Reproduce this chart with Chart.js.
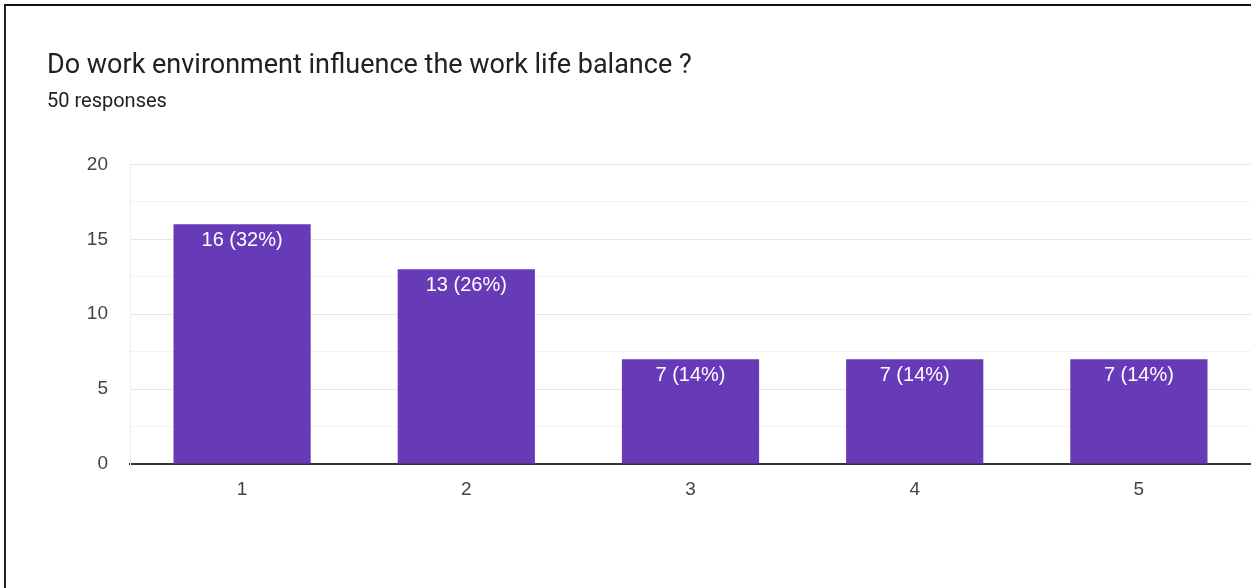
<!DOCTYPE html>
<html>
<head>
<meta charset="utf-8">
<script src="https://cdn.jsdelivr.net/npm/chart.js@4.4.1/dist/chart.umd.min.js"></script>
<style>
  html, body { margin: 0; padding: 0; background: #fff; }
  #wrap { position: relative; width: 1251px; height: 588px; overflow: hidden; }
  #frame { position: absolute; left: 4px; top: 4px; width: 1260px; height: 600px;
           border-top: 2px solid #111; border-left: 2px solid #222; box-sizing: border-box; pointer-events: none; }
  canvas { position: absolute; left: 0; top: 0; }
</style>
</head>
<body>
<div id="wrap">
  <canvas id="c" width="1251" height="588"></canvas>
  <div id="frame"></div>
</div>
<script>
const titleText = "Do work environment influence the work life balance ?";
const subtitleText = "50 responses";
const categories = ["1", "2", "3", "4", "5"];
const counts = [16, 13, 7, 7, 7];
const percents = [32, 26, 14, 14, 14];
const yTicks = [0, 5, 10, 15, 20];

const font = "Roboto, 'Noto Sans', Arial, sans-serif";
const chartFont = "Arial, 'Liberation Sans', sans-serif";

const barLabels = {
  id: 'barLabels',
  afterDatasetsDraw(chart) {
    const ctx = chart.ctx;
    const meta = chart.getDatasetMeta(0);
    ctx.save();
    ctx.fillStyle = '#ffffff';
    ctx.font = "20px " + chartFont;
    ctx.textAlign = 'center';
    ctx.textBaseline = 'middle';
    meta.data.forEach((bar, i) => {
      ctx.fillText(counts[i] + " (" + percents[i] + "%)", bar.x, bar.y + 16);
    });
    ctx.restore();
  }
};

new Chart(document.getElementById('c'), {
  type: 'bar',
  data: {
    labels: categories,
    datasets: [{
      data: counts,
      backgroundColor: '#673ab7',
      borderWidth: 0,
      barPercentage: 0.612,
      categoryPercentage: 1.0
    }]
  },
  options: {
    responsive: false,
    animation: false,
    events: [],
    layout: { padding: { left: 47, right: 0, top: 0, bottom: 74 } },
    plugins: {
      legend: { display: false },
      tooltip: { enabled: false },
      title: {
        display: true, text: titleText, align: 'start',
        color: '#202124', font: { family: font, size: 27, weight: 'normal' },
        padding: { top: 50, bottom: 6 }
      },
      subtitle: {
        display: true, text: subtitleText, align: 'start',
        color: '#202124', font: { family: font, size: 20, weight: 'normal' },
        padding: { top: 2, bottom: 50 }
      }
    },
    scales: {
      x: {
        grid: { display: false, drawTicks: false },
        border: { display: true, color: '#333333', width: 2 },
        ticks: { color: '#444444', font: { family: chartFont, size: 19 }, padding: 14 },
        afterFit(s) { s.height = 50; }
      },
      y: {
        min: 0, max: 20,
        border: { display: true, color: '#eeeeee', width: 1 },
        grid: {
          drawTicks: false,
          color(ctx) {
            const v = ctx.tick.value;
            if (v === 0) return 'rgba(0,0,0,0)';
            return (v % 5 === 0) ? '#e6e6e6' : '#f3f3f3';
          },
          lineWidth: 1
        },
        ticks: {
          stepSize: 2.5,
          color: '#444444',
          font: { family: chartFont, size: 19 },
          padding: 22,
          callback(v) { return yTicks.includes(v) ? String(v) : ''; }
        },
        afterFit(s) { s.width = 83; }
      }
    }
  },
  plugins: [barLabels]
});
</script>
</body>
</html>
